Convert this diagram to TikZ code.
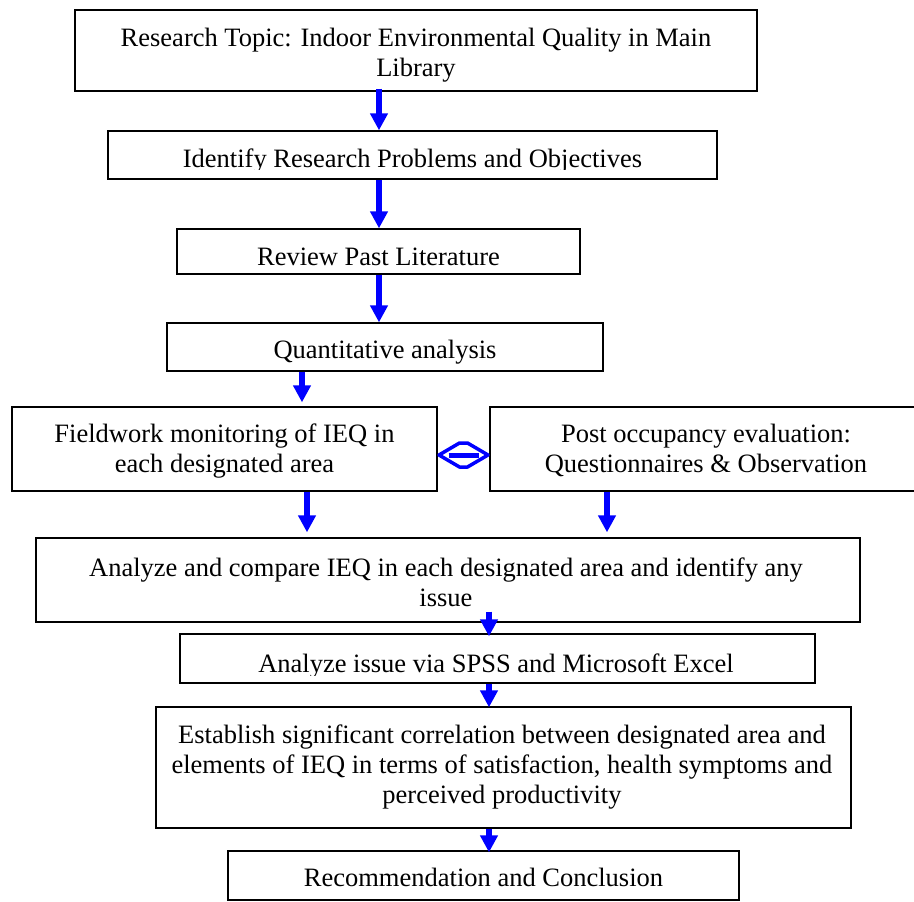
\documentclass[tikz,border=0pt]{standalone}
\usepackage{fontspec}
\setmainfont{Liberation Serif}
\usetikzlibrary{arrows.meta,calc}
\definecolor{arrblue}{RGB}{0,0,255}
\tikzset{
  box/.style={draw=black, line width=1.3pt, rectangle, inner sep=0pt, fill=none},
  txt/.style={font=\fontsize{26.5}{30}\selectfont, align=center, inner sep=0pt, anchor=base},
  arr/.style={draw=arrblue, line width=6pt, -{Triangle[length=17pt,width=17pt]}},
  darr/.style={draw=arrblue, line width=3.5pt, line join=round},
}
\newcommand{\mkbox}[5]{% name, x1, y1, x2, y2
  \node[box, minimum width={(#4-#2)*1pt}, minimum height={(#5-#3)*1pt}] (#1) at ({(#2+#4)/2},{(#3+#5)/2}) {};
}
\begin{document}
\begin{tikzpicture}[x=1pt,y=-1pt]
\useasboundingbox (0,0) rectangle (914,902);
\clip (0,0) rectangle (914,902);
% boxes
\mkbox{b1}{75}{10}{757}{91}
\mkbox{b2}{108}{131}{717}{179}
\mkbox{b3}{177}{229}{580}{274}
\mkbox{b4}{167}{323}{603}{371}
\mkbox{b5}{12}{407}{437}{491}
\mkbox{b6}{490}{407}{922}{491}
\mkbox{b7}{36}{538}{860}{622}
\mkbox{b8}{180}{634}{815}{683}
\mkbox{b9}{156}{707}{851}{828}
\mkbox{b10}{228}{851}{739}{900}
% texts (base anchor = baseline of last line)
\node[txt] (t1) at (416,76) {Research Topic: Indoor Environmental Quality in Main\\Library};
\begin{scope}
\clip (0,0) rectangle (914,169);
\node[txt] (t2) at (412.5,167) {Identify Research Problems and Objectives};
\end{scope}
\node[txt] (t3) at (378.5,265) {Review Past Literature};
\node[txt] (t4) at (385,358) {Quantitative analysis};
\node[txt] (t5) at (224.5,472) {Fieldwork monitoring of IEQ in\\each designated area};
\node[txt] (t6) at (706,472) {Post occupancy evaluation:\\Questionnaires \& Observation};
\node[txt] (t7) at (446,606) {Analyze and compare IEQ in each designated area and identify any\\issue};
\begin{scope}
\clip (0,0) rectangle (914,675);
\node[txt] (t8) at (496,672) {Analyze issue via SPSS and Microsoft Excel};
\end{scope}
\node[txt] (t9) at (502,803) {Establish significant correlation between designated area and\\elements of IEQ in terms of satisfaction, health symptoms and\\perceived productivity};
\node[txt] (t10) at (483.5,886) {Recommendation and Conclusion};
% arrows
\draw[arr] ([yshift=3pt]b1.south -| 379,0) -- (b2.north -| 379,0);
\draw[arr] (b2.south -| 379,0) -- (b3.north -| 379,0);
\draw[arr] (b3.south -| 379,0) -- (b4.north -| 379,0);
\draw[arr] (b4.south -| 302,0) -- ([yshift=4pt]b5.north -| 302,0);
\draw[arr] (b5.south -| 307,0) -- ([yshift=5pt]b7.north -| 307,0);
\draw[arr] (b6.south -| 607,0) -- ([yshift=5pt]b7.north -| 607,0);
\draw[arr] ([yshift=11pt]b7.south -| 489,0) -- ([yshift=-3pt]b8.north -| 489,0);
\draw[arr] (b8.south -| 489,0) -- ([yshift=-1pt]b9.north -| 489,0);
\draw[arr] (b9.south -| 489,0) -- ([yshift=-2pt]b10.north -| 489,0);
% double arrow between b5 and b6
\coordinate (dc) at ($(b5.east)!0.5!(b6.west)+(0,6)$);
\draw[darr] ($(dc)+(-24.5,0)$) -- ($(dc)+(-4,-12)$) -- ($(dc)+(4,-12)$) -- ($(dc)+(24.5,0)$) -- ($(dc)+(4,12)$) -- ($(dc)+(-4,12)$) -- cycle;
\draw[draw=arrblue, line width=5pt] ($(dc)+(-15,0)$) -- ($(dc)+(15,0)$);
\end{tikzpicture}
\end{document}
